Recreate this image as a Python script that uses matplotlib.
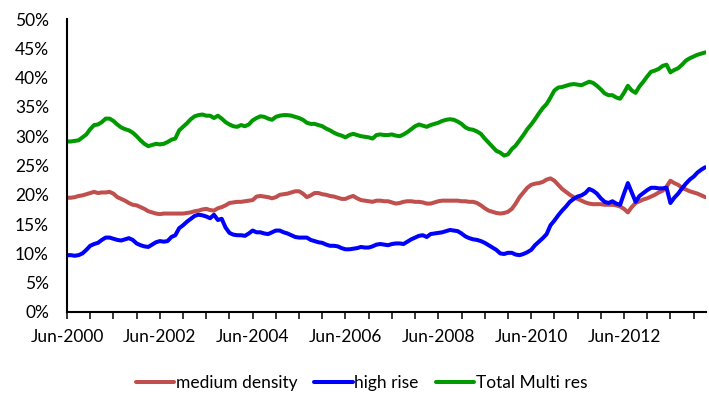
import numpy as np
import pandas as pd
import matplotlib
matplotlib.use("Agg")
import matplotlib.pyplot as plt

# monthly shares of multi-residential stock, Jun-2000 onwards
months = pd.date_range("2000-06-01", periods=166, freq="MS")

medium_density = [
    19.5, 19.5, 19.6, 19.8, 19.9, 20.1, 20.3, 20.5, 20.3, 20.4,
    20.4, 20.5, 20.2, 19.6, 19.3, 19.0, 18.6, 18.3, 18.2, 17.9,
    17.6, 17.2, 17.0, 16.8, 16.7, 16.8, 16.8, 16.8, 16.8, 16.8,
    16.8, 16.9, 17.0, 17.2, 17.3, 17.5, 17.6, 17.4, 17.3, 17.7,
    17.9, 18.2, 18.6, 18.7, 18.8, 18.8, 18.9, 19.0, 19.1, 19.7,
    19.8, 19.7, 19.6, 19.4, 19.6, 20.0, 20.1, 20.2, 20.4, 20.6,
    20.6, 20.2, 19.6, 19.9, 20.3, 20.3, 20.1, 20.0, 19.8, 19.7,
    19.5, 19.3, 19.3, 19.6, 19.8, 19.4, 19.1, 19.0, 18.9, 18.8,
    19.0, 19.0, 18.9, 18.9, 18.7, 18.5, 18.6, 18.8, 18.9, 18.9,
    18.8, 18.8, 18.7, 18.5, 18.5, 18.7, 18.9, 19.0, 19.0, 19.0,
    19.0, 19.0, 18.9, 18.9, 18.8, 18.8, 18.6, 18.2, 17.7, 17.3,
    17.1, 16.9, 16.8, 16.9, 17.1, 17.6, 18.5, 19.6, 20.4, 21.2,
    21.7, 21.9, 22.0, 22.2, 22.6, 22.8, 22.4, 21.7, 21.0, 20.5,
    20.0, 19.6, 19.3, 19.0, 18.7, 18.5, 18.4, 18.4, 18.4, 18.3,
    18.3, 18.3, 18.2, 18.0, 17.6, 17.0, 17.9, 18.6, 18.9, 19.2,
    19.4, 19.7, 20.0, 20.4, 20.7, 21.4, 22.4, 22.0, 21.7, 21.2,
    20.9, 20.6, 20.4, 20.2, 19.9, 19.6,
]

high_rise = [
    9.7, 9.7, 9.6, 9.7, 10.0, 10.6, 11.3, 11.6, 11.8, 12.3,
    12.7, 12.7, 12.5, 12.3, 12.2, 12.4, 12.6, 12.3, 11.7, 11.4,
    11.2, 11.1, 11.5, 11.9, 12.1, 12.0, 12.1, 12.8, 13.1, 14.3,
    14.8, 15.4, 15.9, 16.4, 16.6, 16.5, 16.3, 16.0, 16.6, 15.7,
    15.9, 14.4, 13.5, 13.2, 13.1, 13.1, 13.0, 13.4, 13.9, 13.6,
    13.6, 13.4, 13.3, 13.6, 13.9, 13.9, 13.6, 13.4, 13.1, 12.8,
    12.7, 12.7, 12.7, 12.3, 12.1, 11.9, 11.8, 11.5, 11.3, 11.3,
    11.2, 10.9, 10.7, 10.7, 10.8, 10.9, 11.1, 11.0, 11.0, 11.2,
    11.5, 11.6, 11.5, 11.4, 11.6, 11.7, 11.7, 11.6, 12.0, 12.4,
    12.7, 13.0, 13.1, 12.8, 13.3, 13.4, 13.5, 13.6, 13.8, 14.0,
    13.9, 13.8, 13.4, 12.9, 12.6, 12.4, 12.3, 12.1, 11.8, 11.4,
    11.0, 10.6, 10.0, 9.9, 10.1, 10.1, 9.8, 9.7, 9.9, 10.2,
    10.6, 11.4, 12.0, 12.6, 13.3, 14.8, 15.6, 16.5, 17.3, 18.0,
    18.8, 19.3, 19.7, 19.9, 20.3, 21.0, 20.7, 20.2, 19.4, 18.8,
    18.6, 18.9, 18.5, 18.3, 20.2, 22.0, 20.4, 18.8, 19.8, 20.3,
    20.8, 21.2, 21.2, 21.1, 21.1, 21.2, 18.6, 19.5, 20.2, 21.1,
    21.9, 22.6, 23.1, 23.8, 24.3, 24.7,
]

total_multi = [
    29.1, 29.1, 29.2, 29.3, 29.8, 30.3, 31.2, 31.9, 32.0, 32.4,
    33.0, 33.0, 32.6, 32.0, 31.5, 31.2, 31.0, 30.6, 30.0, 29.3,
    28.7, 28.3, 28.5, 28.7, 28.6, 28.7, 29.0, 29.4, 29.6, 31.0,
    31.6, 32.2, 32.9, 33.4, 33.6, 33.7, 33.5, 33.5, 33.1, 33.5,
    33.0, 32.4, 32.0, 31.7, 31.6, 31.9, 31.7, 32.0, 32.7, 33.1,
    33.4, 33.3, 33.0, 32.8, 33.3, 33.5, 33.6, 33.6, 33.5, 33.3,
    33.1, 32.8, 32.3, 32.1, 32.1, 31.9, 31.7, 31.3, 31.0, 30.6,
    30.3, 30.1, 29.8, 30.2, 30.4, 30.2, 30.0, 29.9, 29.8, 29.6,
    30.2, 30.3, 30.2, 30.2, 30.3, 30.1, 30.0, 30.3, 30.7, 31.2,
    31.7, 32.0, 31.8, 31.6, 31.9, 32.1, 32.3, 32.6, 32.8, 32.9,
    32.8, 32.5, 32.1, 31.5, 31.2, 31.1, 30.8, 30.4, 29.6, 28.9,
    28.2, 27.5, 27.2, 26.7, 26.9, 27.8, 28.4, 29.3, 30.2, 31.2,
    32.0, 32.9, 33.9, 34.8, 35.5, 36.6, 37.8, 38.3, 38.4, 38.6,
    38.8, 38.9, 38.8, 38.7, 39.0, 39.3, 39.1, 38.6, 38.0, 37.3,
    37.0, 37.0, 36.6, 36.4, 37.4, 38.6, 37.8, 37.4, 38.5, 39.3,
    40.2, 41.0, 41.2, 41.5, 42.0, 42.2, 40.9, 41.3, 41.6, 42.2,
    42.9, 43.3, 43.6, 43.9, 44.1, 44.3,
]

series = [
    ("medium density", medium_density, "#C0504D"),
    ("high rise", high_rise, "#0000FF"),
    ("Total Multi res", total_multi, "#009A00"),
]

plt.rcParams["font.family"] = ["Lato", "DejaVu Sans"]

fig = plt.figure(figsize=(7.09, 3.94), dpi=100)
ax = fig.add_axes([67 / 709, 82 / 394, 639 / 709, 293 / 394])

x = np.arange(len(months))
for name, vals, col in series:
    ax.plot(x, np.array(vals) / 100, color=col, lw=2.9, label=name,
            solid_joinstyle="round", solid_capstyle="round")

ax.set_xlim(0, 165.2)
ax.set_ylim(0, 0.5)

ax.set_yticks(np.arange(0, 0.51, 0.05))
ax.set_yticklabels([f"{v}%" for v in range(0, 51, 5)])
ax.tick_params(axis="y", length=0, pad=13, labelsize=12.5)

major = list(range(0, len(months), 24))
ax.set_xticks(major)
ax.set_xticklabels([months[i].strftime("%b-%Y") for i in major])
ax.set_xticks(range(0, len(months), 6), minor=True)
ax.tick_params(axis="x", which="both", direction="out", length=5,
               width=1.1, color="black", labelsize=12.5, pad=7)

for s in ("top", "right"):
    ax.spines[s].set_visible(False)
for s in ("left", "bottom"):
    ax.spines[s].set_linewidth(1.5)
    ax.spines[s].set_color("black")

fig.legend(loc="center", bbox_to_anchor=(0.51, 1 - 383 / 394), ncol=3,
           frameon=False, fontsize=12.5, handlelength=2.2,
           handletextpad=0.1, columnspacing=1.0)

fig.savefig("out.png", dpi=100)
